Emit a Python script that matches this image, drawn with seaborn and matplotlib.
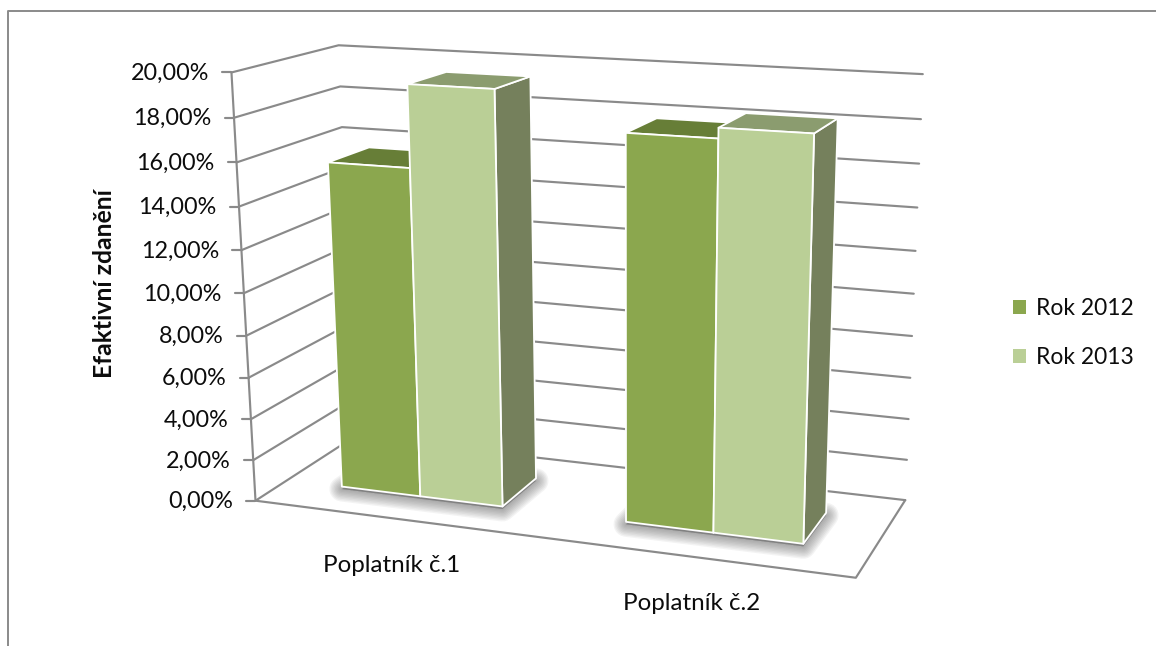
import numpy as np
import matplotlib
matplotlib.use("Agg")
import matplotlib.pyplot as plt
from matplotlib.patches import Patch, Polygon
import seaborn as sns

# Chart content
categories = ["Poplatník č.1", "Poplatník č.2"]
series_names = ["Rok 2012", "Rok 2013"]
values_2012 = [15.65, 17.84]
values_2013 = [19.42, 18.30]
tick_values = [0, 2, 4, 6, 8, 10, 12, 14, 16, 18, 20]
y_title = "Efaktivní zdanění"

# Face colours per series: front, top, side
front_colors = ["#8BA74E", "#BACF96"]
top_colors = ["#677E37", "#8B9C6F"]
side_colors = ["#5F7038", "#75805C"]
line_color = "#8A8A8A"
text_color = "#0C0C0C"

# Bar footprints in the unit floor square: category -> series -> (left, right)
bar_spans = [[(0.101, 0.244), (0.244, 0.390)], [(0.602, 0.747), (0.747, 0.892)]]
depth_front, depth_back = 0.305, 0.715

# Camera: correspondences between the unit chart box and the canvas
box_corners = [(0, 0, 0), (1, 0, 0), (1, 1, 0), (0, 0, 20), (0, 1, 20), (1, 1, 20), (0, 1, 0)]
canvas_corners = [(253, 499), (857, 578), (904, 500), (233, 74), (337, 44), (923, 74), (357, 438)]


def fit_camera(world, canvas):
    rows = []
    for (x, d, v), (u, w) in zip(world, canvas):
        v = v / 20
        rows.append([x, d, v, 1, 0, 0, 0, 0, -u * x, -u * d, -u * v, -u])
        rows.append([0, 0, 0, 0, x, d, v, 1, -w * x, -w * d, -w * v, -w])
    return np.linalg.svd(np.array(rows, float))[2][-1].reshape(3, 4)


camera = fit_camera(box_corners, canvas_corners)


def project(x, d, v):
    h = camera @ np.array([x, d, v / 20, 1.0])
    return h[:2] / h[2]


sns.set_theme(style="white")
plt.rcParams["font.family"] = ["Lato", "DejaVu Sans"]

fig = plt.figure(figsize=(11.56, 6.46), dpi=100, facecolor="white")
ax = fig.add_axes([0, 0, 1, 1])


def stroke(points, lw=1.55, color=line_color):
    pts = np.array(points, float)
    sns.lineplot(x=pts[:, 0], y=pts[:, 1], ax=ax, sort=False, estimator=None, color=color,
                 lw=lw, legend=False, solid_capstyle="round", solid_joinstyle="round", zorder=1)


def face(corners, color, zorder):
    ax.add_patch(Polygon(corners, closed=True, facecolor=color, edgecolor="white",
                         lw=1.3, joinstyle="round", zorder=zorder))


# Outer chart frame, cut by the right and bottom image edges
stroke([(8, 646), (8, 11), (1156, 11)], lw=1.4)

# Gridlines on the side and back walls, tick stubs, value labels
for t in tick_values:
    front = project(0, 0, t)
    stroke([front, project(0, 1, t), project(1, 1, t)])
    stroke([front - np.array([9, 0]), front])
    ax.text(front[0] - 22.5, front[1] + 1, f"{t:.2f}%".replace(".", ","), ha="right",
            va="center", fontsize=16.8, color=text_color)

# Left axis and floor outline
stroke([project(0, 0, 20), project(0, 0, 0), project(1, 0, 0), project(1, 1, 0)])

# Soft contact shadow under each category's pair of bars
for spans in bar_spans:
    x0, x1 = spans[0][0], spans[1][1]
    base = np.array([project(x0, depth_front, 0), project(x1, depth_front, 0),
                     project(x1, depth_back, 0), project(x0, depth_back, 0)])
    base = base + np.array([0, 2.5])
    for width in np.linspace(18, 2, 9):
        ax.add_patch(Polygon(base, closed=True, facecolor="#555555", edgecolor="#555555",
                             lw=width, alpha=0.065, joinstyle="round", zorder=2))

# Bars: side and top faces first, then the front faces
for c, group in enumerate(zip(values_2012, values_2013)):
    for s, value in enumerate(group):
        x0, x1 = bar_spans[c][s]
        side = [project(x1, depth_front, 0), project(x1, depth_back, 0),
                project(x1, depth_back, value), project(x1, depth_front, value)]
        top = [project(x0, depth_front, value), project(x1, depth_front, value),
               project(x1, depth_back, value), project(x0, depth_back, value)]
        front = [project(x0, depth_front, 0), project(x1, depth_front, 0),
                 project(x1, depth_front, value), project(x0, depth_front, value)]
        order = 3 + 2 * s
        face(side, side_colors[s], order)
        face(top, top_colors[s], order)
        face(front, front_colors[s], order + 1)

# Category labels sit below the front floor edge
for label, spans in zip(categories, bar_spans):
    mid = project((spans[0][0] + spans[1][1]) / 2, 0, 0)
    ax.text(mid[0] - 1, mid[1] + 47, label, ha="center", va="center", fontsize=17.4,
            color=text_color)

ax.text(104, 284, y_title, rotation=90, ha="center", va="center", fontsize=17.8,
        fontweight="bold", color=text_color)

handles = [Patch(facecolor=col, edgecolor="none", label=name)
           for col, name in zip(front_colors, series_names)]
ax.legend(handles=handles, loc="center left", bbox_to_anchor=(995 / 1156, 1 - 333 / 646),
          frameon=False, fontsize=16.4, handlelength=0.58, handleheight=0.58,
          handletextpad=0.4, labelspacing=1.22, borderpad=0.3, labelcolor=text_color)

ax.set_xlim(0, 1156)
ax.set_ylim(646, 0)
ax.axis("off")
fig.savefig("out.png", dpi=100, facecolor="white")
